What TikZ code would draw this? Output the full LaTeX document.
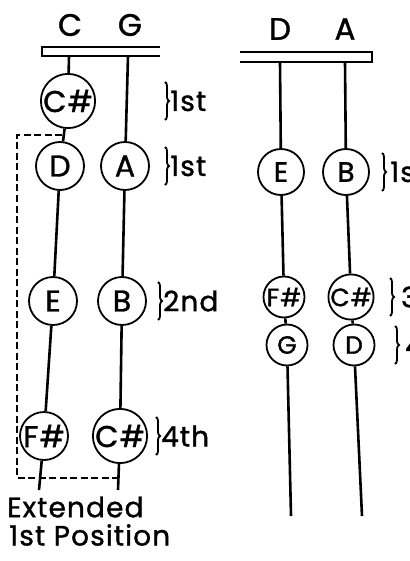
\documentclass[tikz,border=0pt]{standalone}
\usepackage{fontspec}
\setmainfont{Poppins}[FakeBold=1.2, LetterSpace=4]
\usetikzlibrary{decorations.pathreplacing}
\usetikzlibrary{positioning}

\begin{document}
\begin{tikzpicture}[x=1pt, y=-1pt,
every node/.style={font=\fontsize{28}{30}\selectfont, inner sep=0pt},
note/.style={draw, circle, line width=1.8pt, minimum size=48pt, fill=white,
  font=\fontsize{30}{32}\selectfont},
small note/.style={note, minimum size=41pt, font=\fontsize{25}{27}\selectfont},
string name/.style={font=\fontsize{31}{33}\selectfont},
string/.style={line width=2.6pt},
nut/.style={line width=2pt},
finger/.style={decorate, decoration={brace, amplitude=4pt}, line width=1.8pt}]
\useasboundingbox (0,0) rectangle (409,561);

% C and G strings, extended position
\node[note] (cis) at (68,101) {C\#};
\node[note] (d) at (60,166) {D};
\node[note] (e) at (53,301) {E};
\node[note] (fis) at (44,436) {F\#};
\node[note] (a) at (125,166) {A};
\node[note] (b) at (122,301) {B};
\node[note] (cis2) at (120,436) {C\#};
\node[string name] (c) at (70,25) {C};
\node[string name] (g) at (130,25) {G};
\coordinate (c0) at (69,56);
\coordinate (g0) at (128,56);
\coordinate (c1) at (39,490);
\coordinate (g1) at (118,490);
\draw[nut] (160,47) -- (42,47) -- (42,56) -- (160,56);
\draw[string] (c0) -- (cis) (cis) -- (d) (d) -- (e) (e) -- (fis) (fis) -- (c1);
\draw[string] (g0) -- (a) (a) -- (b) (b) -- (cis2) (cis2) -- (g1);

% dashed box round the extension
\coordinate (x0) at (62,135);
\coordinate (x1) at (119,478);
\draw[dashed, line width=1.8pt, dash pattern=on 7pt off 3.5pt]
  (x0) -- (17,135) -- (17,478) -- (x1);

\foreach \y/\h/\f in {101/1st/165, 166/1st/165, 301/2nd/158, 436/4th/156}{
\draw[finger] (\f,\y-19) -- (\f,\y+19);
\node[anchor=west] at (\f+5,\y) {\h};}

\node[anchor=west] (ext) at (7,507) {Extended};
\node[anchor=west] (pos) at (9,535) {1st Position};

% D and A strings
\node[note, minimum size=46pt, font=\fontsize{28}{30}\selectfont] (e2) at (281,172) {E};
\node[note, minimum size=46pt, font=\fontsize{28}{30}\selectfont] (b2) at (346,172) {B};
\node[small note] (fis2) at (284,297) {F\#};
\node[small note] (cis3) at (351,297) {C\#};
\node[small note] (g2) at (287,345) {G};
\node[small note] (d2) at (354,345) {D};
\node[string name] (dl) at (280,29) {D};
\node[string name] (al) at (345,29) {A};
\coordinate (d0) at (280,62);
\coordinate (a0) at (345,62);
\coordinate (d1) at (291,516);
\coordinate (a1) at (362,516);
\draw[nut] (240,52) -- (372,52) -- (372,62) -- (240,62);
\draw[string] (d0) -- (e2) (e2) -- (fis2) (fis2) -- (g2) (g2) -- (d1);
\draw[string] (a0) -- (b2) (b2) -- (cis3) (cis3) -- (d2) (d2) -- (a1);

\foreach \y/\h/\f/\t in {172/1st/382/390, 297/3rd/390/401, 345/4th/395/405}{
\draw[finger] (\f,\y-19) -- (\f,\y+19);
\node[anchor=west] at (\t,\y) {\h};}
\end{tikzpicture}
\end{document}
